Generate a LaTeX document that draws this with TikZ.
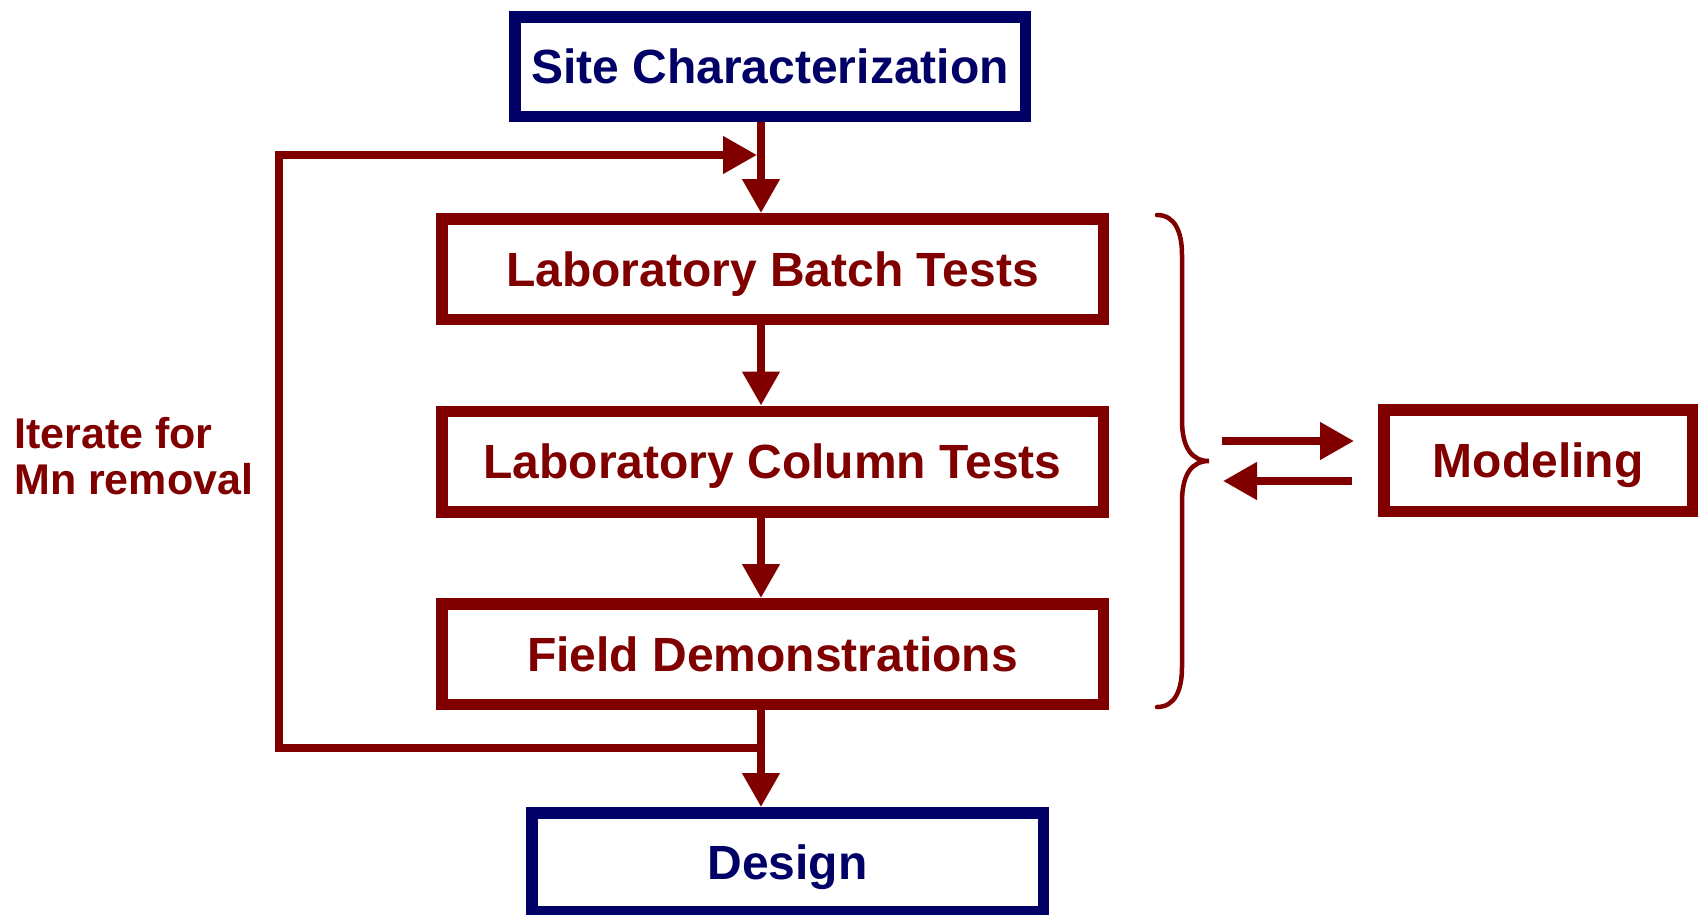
\documentclass[tikz,border=0pt]{standalone}
\usepackage{fontspec}
\setmainfont{Liberation Sans}
\usetikzlibrary{arrows.meta}
\definecolor{navyc}{RGB}{0,0,102}
\definecolor{maroonc}{RGB}{128,0,0}
\begin{document}
\begin{tikzpicture}[x=1pt,y=-1pt,
  boxbase/.style={draw, line width=11.5pt, inner sep=0pt, fill=white,
    font=\fontsize{48}{56}\selectfont\bfseries, text height=34.4pt, text depth=0pt},
  bluebox/.style={boxbase, draw=navyc, text=navyc},
  redbox/.style={boxbase, draw=maroonc, text=maroonc},
  conn/.style={draw=maroonc, line width=7.7pt, line join=miter},
  tipped/.style={conn, -{Triangle[length=34pt,width=36pt]}},
  bracestyle/.style={draw=maroonc, line width=4.5pt, line cap=round},
  sidetext/.style={text=maroonc, font=\fontsize{43}{46}\selectfont\bfseries, inner sep=0pt, anchor=base west}
]
\useasboundingbox (0,0) rectangle (1698,914);

% boxes
\node[bluebox, minimum width=510.5pt, minimum height=99.5pt] (site) at (770,66.5) {Site Characterization};
\node[redbox, minimum width=661.5pt, minimum height=100.5pt] (batch) at (772.5,269) {Laboratory Batch Tests};
\node[redbox, minimum width=661.5pt, minimum height=100.5pt] (column) at (772.5,461.5) {Laboratory Column Tests};
\node[redbox, minimum width=661.5pt, minimum height=100.5pt] (field) at (772.5,654) {Field Demonstrations};
\node[bluebox, minimum width=511.5pt, minimum height=98.5pt] (design) at (787.5,862) {Design};
\node[redbox, minimum width=308.5pt, minimum height=101.5pt] (model) at (1538,460.5) {Modeling};

% side label
\node[sidetext] (iter1) at (14,448) {Iterate for};
\node[sidetext] (iter2) at (14,494) {Mn removal};

% vertical axis coordinate
\coordinate (ax) at (761,0);

% main flow
\draw[tipped] (site.south -| ax) -- (batch.north -| ax);
\draw[tipped] (batch.south -| ax) -- (column.north -| ax);
\draw[tipped] (column.south -| ax) -- (field.north -| ax);
\draw[tipped] (field.south -| ax) -- (design.north -| ax);

% iteration loop
\coordinate (loopstart) at (761,748);
\coordinate (loopbl) at (279,748);
\coordinate (looptl) at (279,155);
\coordinate (loopend) at (757,155);
\draw[tipped] (loopstart) -- (loopbl) -- (looptl) -- (loopend);

% brace
\draw[bracestyle] (1157,215) .. controls (1175,215) and (1182,232) .. (1182,255)
  -- (1182,420) .. controls (1182,448) and (1192,461) .. (1209,461)
  .. controls (1192,461) and (1182,474) .. (1182,502)
  -- (1182,667) .. controls (1182,690) and (1175,707) .. (1157,707);

% exchange arrows with modeling
\coordinate (ra0) at (1222,441);
\coordinate (ra1) at (1354,441);
\coordinate (la0) at (1352,481);
\coordinate (la1) at (1223,481);
\draw[tipped] (ra0) -- (ra1);
\draw[tipped] (la0) -- (la1);
\end{tikzpicture}
\end{document}
